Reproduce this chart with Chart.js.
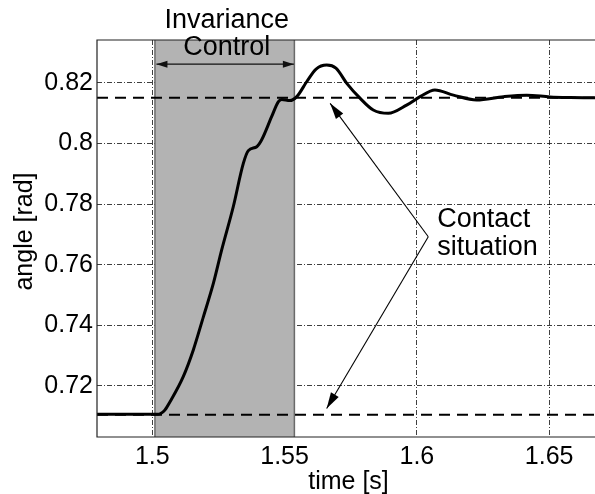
<!DOCTYPE html>
<html>
<head>
<meta charset="utf-8">
<script src="https://cdn.jsdelivr.net/npm/chart.js@4"></script>
<style>
  html, body { margin: 0; padding: 0; background: #fff; overflow: hidden; }
  #wrap { width: 595px; height: 494px; overflow: hidden; position: relative; }
  canvas { display: block; }
</style>
</head>
<body>
<div id="wrap"><canvas id="c" width="600" height="505"></canvas></div>
<script>
// Joint angle response during the invariance-control phase
const times = [
  1.4791, 1.5000, 1.5022, 1.5029, 1.5037, 1.5048, 1.5067, 1.5117, 1.5155, 1.5193,
  1.5231, 1.5262, 1.5306, 1.5344, 1.5363, 1.5395, 1.5413, 1.5451, 1.5476, 1.5489,
  1.5520, 1.5546, 1.5584, 1.5619, 1.5659, 1.5694, 1.5735, 1.5785, 1.5835, 1.5892,
  1.5961, 1.6012, 1.6068, 1.6138, 1.6226, 1.6327, 1.6415, 1.6503, 1.6579, 1.6692
];
const angles = [
  0.7107, 0.7107, 0.7107, 0.7108, 0.7112, 0.7121, 0.7148, 0.7231, 0.7319, 0.7428,
  0.7539, 0.7648, 0.7791, 0.7934, 0.7976, 0.7989, 0.8011, 0.8088, 0.8137, 0.8145,
  0.8141, 0.8154, 0.8204, 0.8245, 0.8258, 0.8248, 0.8198, 0.8149, 0.8110, 0.8099,
  0.8126, 0.8154, 0.8176, 0.8159, 0.8143, 0.8154, 0.8159, 0.8153, 0.8151, 0.8150
];
// contact situations (before / after)
const contactLevels = [0.815, 0.7105];
// invariance control window [s]
const controlWindow = [1.501, 1.5537];
const xTicks = [1.5, 1.55, 1.6, 1.65];
const yTicks = [0.72, 0.74, 0.76, 0.78, 0.8, 0.82];
const xRange = [1.4791, 1.6692];
const yRange = [0.70318, 0.83408];

const FONT = '"Liberation Sans", Arial, Helvetica, sans-serif';
const CANVAS_H = 505;

const curve = times.map((t, i) => ({ x: t, y: angles[i] }));
const levelLines = contactLevels.map(v => ({
  data: [{ x: xRange[0], y: v }, { x: xRange[1], y: v }],
  borderColor: '#000',
  borderWidth: 2,
  borderDash: [11, 7],
  pointRadius: 0,
  fill: false
}));

function arrowHead(ctx, x1, y1, x2, y2, len, half) {
  const a = Math.atan2(y2 - y1, x2 - x1);
  ctx.beginPath();
  ctx.moveTo(x2, y2);
  ctx.lineTo(x2 - len * Math.cos(a) + half * Math.sin(a), y2 - len * Math.sin(a) - half * Math.cos(a));
  ctx.lineTo(x2 - len * Math.cos(a) - half * Math.sin(a), y2 - len * Math.sin(a) + half * Math.cos(a));
  ctx.closePath();
  ctx.fill();
}

function arrow(ctx, x1, y1, x2, y2, len, half) {
  ctx.beginPath();
  ctx.moveTo(x1, y1);
  ctx.lineTo(x2, y2);
  ctx.stroke();
  arrowHead(ctx, x1, y1, x2, y2, len, half);
}

const controlShade = {
  id: 'controlShade',
  beforeDatasetsDraw(chart) {
    const { ctx, chartArea: a, scales: { x } } = chart;
    const x0 = x.getPixelForValue(controlWindow[0]);
    const x1 = x.getPixelForValue(controlWindow[1]);
    ctx.save();
    ctx.fillStyle = '#b3b3b3';
    ctx.fillRect(x0, a.top, x1 - x0, a.bottom - a.top);
    ctx.strokeStyle = '#6a6a6a';
    ctx.lineWidth = 1.5;
    ctx.beginPath();
    ctx.moveTo(x0, a.top); ctx.lineTo(x0, a.bottom);
    ctx.moveTo(x1, a.top); ctx.lineTo(x1, a.bottom);
    ctx.stroke();
    ctx.restore();
  }
};

const annotations = {
  id: 'annotations',
  afterDraw(chart) {
    const { ctx, chartArea: a, scales: { x, y } } = chart;
    ctx.save();
    // axes frame
    ctx.strokeStyle = '#222';
    ctx.lineWidth = 1.2;
    ctx.beginPath();
    ctx.moveTo(a.right + 2, a.top); ctx.lineTo(a.left, a.top);
    ctx.lineTo(a.left, a.bottom); ctx.lineTo(a.right + 2, a.bottom);
    ctx.stroke();

    ctx.fillStyle = '#000';
    ctx.strokeStyle = '#000';

    // axis titles
    ctx.font = '25px ' + FONT;
    ctx.textAlign = 'center';
    ctx.textBaseline = 'alphabetic';
    ctx.fillText('time [s]', (a.left + a.right) / 2, 489);
    ctx.save();
    ctx.translate(32, 231.5);
    ctx.rotate(-Math.PI / 2);
    ctx.fillText('angle [rad]', 0, 0);
    ctx.restore();

    // invariance control window label
    const xc = x.getPixelForValue((controlWindow[0] + controlWindow[1]) / 2);
    ctx.font = '27px ' + FONT;
    ctx.fillText('Invariance', xc + 2, y.getPixelForValue(0.8379));
    ctx.fillText('Control', xc + 2, y.getPixelForValue(0.8291));
    const ya = y.getPixelForValue(0.8261);
    const xl = x.getPixelForValue(controlWindow[0]) + 1.5;
    const xr = x.getPixelForValue(controlWindow[1]) - 0.5;
    ctx.lineWidth = 1.3;
    ctx.strokeStyle = '#111';
    ctx.fillStyle = '#111';
    ctx.beginPath(); ctx.moveTo(xl, ya); ctx.lineTo(xr, ya); ctx.stroke();
    arrowHead(ctx, xr, ya, xl, ya, 11, 3.5);
    arrowHead(ctx, xl, ya, xr, ya, 11, 3.5);

    // contact situation label and pointers
    ctx.fillStyle = '#000';
    ctx.strokeStyle = '#000';
    ctx.textAlign = 'left';
    const tx = x.getPixelForValue(1.6077);
    ctx.fillText('Contact', tx, y.getPixelForValue(0.7725));
    ctx.fillText('situation', tx, y.getPixelForValue(0.7632));
    const ox = x.getPixelForValue(1.6043), oy = y.getPixelForValue(0.7692);
    ctx.lineWidth = 1.1;
    arrow(ctx, ox, oy, x.getPixelForValue(1.5672), y.getPixelForValue(0.8132), 16, 4.5);
    arrow(ctx, ox, oy, x.getPixelForValue(1.5659), y.getPixelForValue(0.7126), 16, 4.5);
    ctx.restore();
  }
};

const fmt = v => String(Number(v.toFixed(3)));

new Chart(document.getElementById('c'), {
  type: 'line',
  data: {
    datasets: [
      ...levelLines,
      {
        data: curve,
        borderColor: '#000',
        borderWidth: 3,
        pointRadius: 0,
        fill: false,
        cubicInterpolationMode: 'monotone'
      }
    ]
  },
  options: {
    responsive: false,
    animation: false,
    devicePixelRatio: 1,
    layout: { padding: { top: 40, left: 0, right: 0, bottom: 0 } },
    plugins: { legend: { display: false }, tooltip: { enabled: false } },
    scales: {
      x: {
        type: 'linear',
        min: xRange[0],
        max: xRange[1],
        afterBuildTicks: s => { s.ticks = xTicks.map(v => ({ value: v })); },
        afterFit: s => { s.height = CANVAS_H - 437; },
        grid: { color: 'rgba(0,0,0,0.75)', lineWidth: 1, drawTicks: false },
        border: { display: false, dash: [5, 2, 1, 2] },
        ticks: { padding: 5, color: '#000', font: { family: FONT, size: 25 }, callback: fmt, maxRotation: 0 }
      },
      y: {
        type: 'linear',
        min: yRange[0],
        max: yRange[1],
        afterBuildTicks: s => { s.ticks = yTicks.map(v => ({ value: v })); },
        afterFit: s => { s.width = 97; },
        grid: { color: 'rgba(0,0,0,0.75)', lineWidth: 1, drawTicks: false },
        border: { display: false, dash: [5, 2, 1, 2] },
        ticks: { padding: 4, color: '#000', font: { family: FONT, size: 25 }, callback: fmt }
      }
    }
  },
  plugins: [controlShade, annotations]
});
</script>
</body>
</html>
